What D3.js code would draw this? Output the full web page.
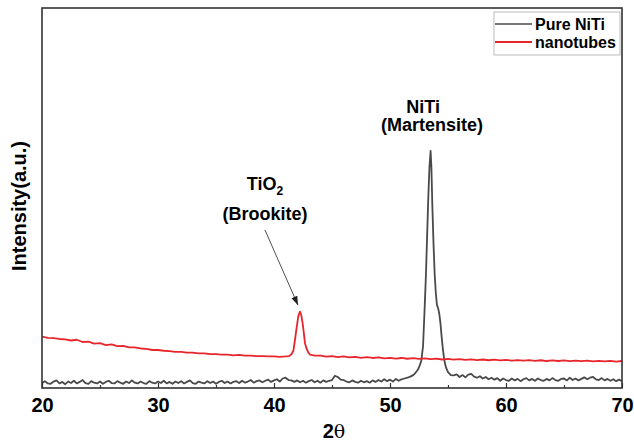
<!DOCTYPE html>
<meta charset="utf-8">
<style>
    body { margin: 0; background: #fff; }
    text { font-family: "Liberation Sans", Arial, sans-serif; fill: #000; }
    .axis path { display: none; }
    .axis line { stroke: #333; stroke-width: 1.2; }
    .axis text { font-size: 20px; font-weight: bold; }
    .ann { font-size: 18px; font-weight: bold; }
    .legend text { font-size: 16px; font-weight: bold; }
</style>
<body>
<script src="https://cdn.jsdelivr.net/npm/d3@7"></script>
<script>

// [2theta, intensity]
var niti = [
    [20,1.3],[20.25,1.8],[20.5,1.2],[20.75,1.1],[21,1.7],[21.25,2.0],[21.5,1.2],[21.75,1.6],
    [22,1.0],[22.25,1.7],[22.5,1.3],[22.75,1.9],[23,1.2],[23.25,1.6],[23.5,2.1],[23.75,1.3],
    [24,1.1],[24.25,1.8],[24.5,1.4],[24.75,1.2],[25,1.7],[25.25,1.1],[25.5,1.6],[25.75,1.9],
    [26,1.3],[26.25,1.2],[26.5,1.8],[26.75,1.4],[27,1.1],[27.25,1.7],[27.5,1.3],[27.75,2.0],
    [28,1.4],[28.25,1.2],[28.5,1.7],[28.75,1.3],[29,1.1],[29.25,1.8],[29.5,1.4],[29.75,1.2],
    [30,1.7],[30.25,1.3],[30.5,1.9],[30.75,1.2],[31,1.6],[31.25,1.1],[31.5,1.7],[31.75,1.3],
    [32,1.8],[32.25,1.2],[32.5,1.6],[32.75,2.0],[33,1.3],[33.25,1.1],[33.5,1.7],[33.75,1.4],
    [34,1.2],[34.25,1.8],[34.5,1.3],[34.75,1.7],[35,1.1],[35.25,1.6],[35.5,1.9],[35.75,1.3],
    [36,1.7],[36.25,1.2],[36.5,1.6],[36.75,1.8],[37,1.3],[37.25,1.9],[37.5,1.4],[37.75,1.7],
    [38,2.1],[38.25,1.4],[38.5,1.8],[38.75,2.0],[39,1.5],[39.25,1.9],[39.5,2.2],[39.75,1.6],
    [40,2.0],[40.25,2.3],[40.5,1.7],[40.75,2.5],[41,2.7],[41.25,2.1],[41.5,2.0],[41.75,1.6],
    [42,2.0],[42.25,1.5],[42.5,1.9],[42.75,1.4],[43,1.8],[43.25,2.1],[43.5,1.5],[43.75,1.9],
    [44,1.4],[44.25,2.0],[44.5,1.6],[44.75,1.9],[45,2.1],[45.25,3.2],[45.5,2.9],[45.75,2.2],
    [46,2.1],[46.25,1.7],[46.5,1.5],[46.75,2.0],[47,1.6],[47.25,1.4],[47.5,1.9],[47.75,1.5],
    [48,1.8],[48.25,1.4],[48.5,2.0],[48.75,1.6],[49,2.1],[49.25,1.7],[49.5,2.3],[49.75,1.8],
    [50,2.2],[50.25,1.7],[50.5,2.4],[50.75,1.9],[51,2.3],[51.25,2.5],[51.5,2.7],[51.75,3.0],
    [52,3.4],[52.2,4.0],[52.4,4.8],[52.55,5.8],[52.7,7.2],[52.85,11],[53.0,22],[53.1,30],
    [53.2,40],[53.3,50],[53.4,58],[53.5,62.4],[53.57,58],[53.65,48],[53.75,38],[53.85,30],
    [53.95,25],[54.05,21.8],[54.15,21],[54.25,19.5],[54.35,17],[54.45,13.5],[54.55,10.5],
    [54.65,8],[54.75,6.3],[54.85,5.2],[55,4.2],[55.25,3.4],[55.5,3.3],[55.75,3.6],
    [56,2.9],[56.25,3.4],[56.5,2.8],[56.75,3.5],[57,3.7],[57.25,3.0],[57.5,2.7],[57.75,3.1],
    [58,2.5],[58.25,2.9],[58.5,2.3],[58.75,2.7],[59,2.2],[59.25,2.6],[59.5,1.9],[59.75,2.5],
    [60,2.1],[60.25,1.9],[60.5,2.5],[60.75,2.0],[61,2.4],[61.25,1.8],[61.5,2.3],[61.75,2.6],
    [62,2.0],[62.25,2.4],[62.5,1.9],[62.75,2.5],[63,2.1],[63.25,1.9],[63.5,2.4],[63.75,2.0],
    [64,2.6],[64.25,2.1],[64.5,1.9],[64.75,2.4],[65,2.5],[65.25,2.0],[65.5,2.7],[65.75,2.1],
    [66,2.5],[66.25,2.0],[66.5,2.4],[66.75,2.8],[67,2.3],[67.25,2.7],[67.5,2.9],[67.75,2.3],
    [68,2.1],[68.25,2.6],[68.5,2.0],[68.75,2.4],[69,1.9],[69.25,2.3],[69.5,1.8],[69.75,2.2],
    [70,1.8]
];

var nanotubes = [
    [20,13.5],[20.5,13.2],[21,13.1],[21.5,12.9],[22,12.8],[22.5,12.5],[23,12.7],[23.5,12.1],
    [24,12.2],[24.5,11.7],[25,11.8],[25.5,11.3],[26,11.5],[26.5,11.0],[27,11.1],[27.5,10.7],
    [28,10.7],[28.5,10.4],[29,10.3],[29.5,10.0],[30,10.0],[30.5,9.8],[31,9.7],[31.5,9.5],
    [32,9.5],[32.5,9.3],[33,9.3],[33.5,9.1],[34,9.1],[34.5,8.9],[35,8.9],[35.5,8.8],
    [36,8.8],[36.5,8.6],[37,8.7],[37.5,8.5],[38,8.5],[38.5,8.4],[39,8.4],[39.5,8.3],
    [40,8.3],[40.5,8.2],[41,8.3],[41.3,8.4],[41.5,8.9],[41.67,9.8],[41.8,12.5],[41.96,16.1],
    [42.1,19],[42.24,20.1],[42.35,19.2],[42.47,17],[42.57,14.5],[42.67,11.8],[42.8,10.4],
    [42.95,9.4],[43.1,8.8],[43.5,8.5],[44,8.5],[44.5,8.25],[45,8.4],[45.5,8.15],[46,8.3],
    [46.5,8.05],[47,8.2],[47.5,7.95],[48,8.1],[48.5,7.9],[49,8.05],[49.5,7.8],[50,7.95],
    [50.5,7.75],[51,7.9],[51.5,7.7],[52,7.85],[52.5,7.65],[53,7.8],[53.5,7.6],[54,7.75],
    [54.5,7.5],[55,7.65],[55.5,7.45],[56,7.6],[56.5,7.4],[57,7.55],[57.5,7.35],[58,7.5],
    [58.5,7.3],[59,7.45],[59.5,7.25],[60,7.4],[60.5,7.2],[61,7.35],[61.5,7.2],[62,7.35],
    [62.5,7.15],[63,7.3],[63.5,7.1],[64,7.25],[64.5,7.1],[65,7.25],[65.5,7.05],[66,7.2],
    [66.5,7.05],[67,7.2],[67.5,7.0],[68,7.15],[68.5,7.0],[69,7.15],[69.5,6.95],[70,7.1]
];

var majorTicks = [20, 30, 40, 50, 60, 70];
var minorTicks = [25, 35, 45, 55, 65];
var seriesNames = ["Pure NiTi", "nanotubes"];
var seriesColors = ["#4a4a4a", "#e8252b"];

// peak labels: [2theta, intensity, text]
var labels = [
    [52.85, 72.4, "NiTi"],
    [53.62, 67.6, "(Martensite)"],
    [39.22, 44.2, "(Brookite)"]
];
var tioLabel = [39.22, 52.1];
var arrowFrom = [39.22, 41.6], arrowTo = [42.07, 21.8];

var margin = {top: 8, right: 12, bottom: 57, left: 42},
    width = 634 - margin.left - margin.right,
    height = 445 - margin.top - margin.bottom;

var x = d3.scaleLinear().domain([20, 70]).range([0, width]);
var y = d3.scaleLinear().domain([0, 100]).range([height, 0]);

var svg = d3.select("body").append("svg")
    .attr("width", 634)
    .attr("height", 445)
  .append("g")
    .attr("transform", "translate(" + margin.left + "," + margin.top + ")");

var defs = svg.append("defs");
defs.append("clipPath").attr("id", "clip")
  .append("rect").attr("width", width).attr("height", height);

defs.append("marker")
    .attr("id", "arrow")
    .attr("viewBox", "0 0 10 10")
    .attr("refX", 10).attr("refY", 5)
    .attr("markerWidth", 9).attr("markerHeight", 9)
    .attr("markerUnits", "userSpaceOnUse")
    .attr("orient", "auto")
  .append("path")
    .attr("d", "M0,1.5L10,5L0,8.5Z")
    .attr("fill", "#222");

var line = d3.line()
    .x(function(d) { return x(d[0]); })
    .y(function(d) { return y(d[1]); });

var plot = svg.append("g").attr("clip-path", "url(#clip)");

plot.append("path").datum(niti)
    .attr("fill", "none").attr("stroke", seriesColors[0])
    .attr("stroke-width", 1.8).attr("stroke-linejoin", "round")
    .attr("d", line);

plot.append("path").datum(nanotubes)
    .attr("fill", "none").attr("stroke", seriesColors[1])
    .attr("stroke-width", 1.8).attr("stroke-linejoin", "round")
    .attr("d", line);

// ticks point inward
svg.append("g")
    .attr("class", "x axis")
    .attr("transform", "translate(0," + height + ")")
    .call(d3.axisBottom(x).tickValues(majorTicks).tickSize(-5).tickPadding(10).tickFormat(d3.format("d")))
    .selectAll("text").attr("y", 10).attr("dy", "0.71em");

svg.append("g")
    .attr("class", "x axis minor")
    .attr("transform", "translate(0," + height + ")")
    .call(d3.axisBottom(x).tickValues(minorTicks).tickSize(-3).tickFormat(""));

svg.append("rect")
    .attr("width", width).attr("height", height)
    .attr("fill", "none").attr("stroke", "#333").attr("stroke-width", 1.6);

var xl = svg.append("text")
    .attr("x", width / 2 + 2)
    .attr("y", height + 50)
    .attr("text-anchor", "middle")
    .style("font-size", "20px");
xl.append("tspan").style("font-weight", "bold").text("2");
xl.append("tspan").style("font-family", "'DejaVu Serif', serif").style("font-size", "19px").text("θ");

svg.append("text")
    .attr("transform", "rotate(-90)")
    .attr("x", -198)
    .attr("y", -16)
    .attr("text-anchor", "middle")
    .style("font-size", "20px")
    .style("font-weight", "bold")
    .text("Intensity(a.u.)");

svg.selectAll("text.ann").data(labels).enter().append("text")
    .attr("class", "ann")
    .attr("x", function(d) { return x(d[0]); })
    .attr("y", function(d) { return y(d[1]); })
    .attr("text-anchor", "middle")
    .text(function(d) { return d[2]; });

var tio = svg.append("text")
    .attr("class", "ann")
    .attr("x", x(tioLabel[0]))
    .attr("y", y(tioLabel[1]))
    .attr("text-anchor", "middle");
tio.append("tspan").text("TiO");
tio.append("tspan").attr("dy", 5).style("font-size", "12px").text("2");

svg.append("line")
    .attr("x1", x(arrowFrom[0])).attr("y1", y(arrowFrom[1]))
    .attr("x2", x(arrowTo[0])).attr("y2", y(arrowTo[1]))
    .attr("stroke", "#222").attr("stroke-width", 0.8)
    .attr("marker-end", "url(#arrow)");

// legend
var legend = svg.append("g").attr("class", "legend")
    .attr("transform", "translate(" + (width - 128) + ",4)");
legend.append("rect")
    .attr("width", 126).attr("height", 43)
    .attr("fill", "#fff").attr("stroke", "#bbb").attr("stroke-width", 1);
var items = legend.selectAll("g.item").data(seriesNames).enter().append("g")
    .attr("class", "item")
    .attr("transform", function(d, i) { return "translate(0," + (12 + i * 18) + ")"; });
items.append("line")
    .attr("x1", 1).attr("x2", 38)
    .attr("stroke", function(d, i) { return seriesColors[i]; })
    .attr("stroke-width", function(d, i) { return i ? 2 : 1.5; });
items.append("text")
    .attr("x", 41).attr("y", 6)
    .text(function(d) { return d; });

</script>
</body>
